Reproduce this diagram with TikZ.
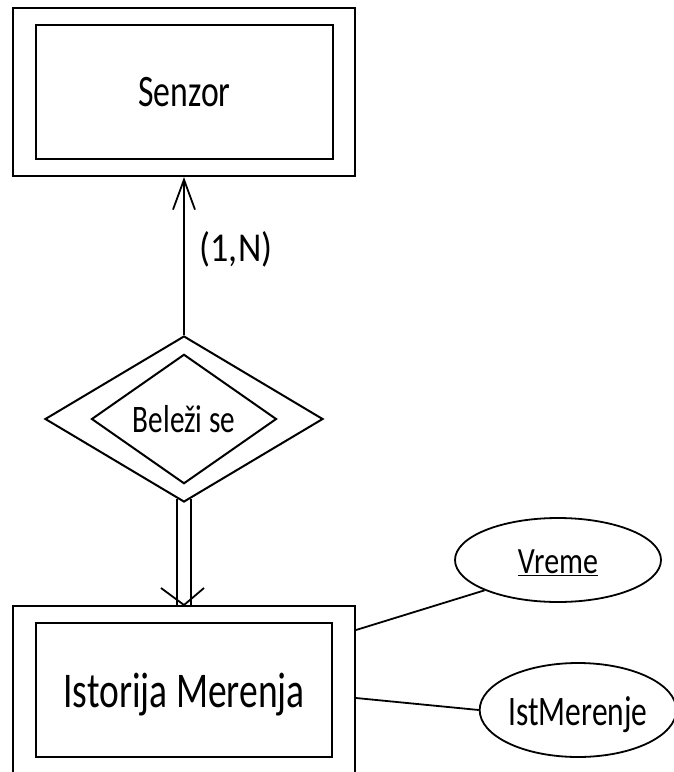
\documentclass[tikz,border=0pt]{standalone}
\usepackage{fontspec}
\setmainfont{Carlito}[FakeStretch=0.75]
\newfontfamily\widefont{Carlito}[FakeStretch=0.88]
\newfontfamily\midfont{Carlito}[FakeStretch=0.81]
\usetikzlibrary{shapes.geometric,arrows.meta,backgrounds,calc}
\tikzset{
  ent/.style={draw, line width=2pt, rectangle, inner sep=0pt},
  rel/.style={draw, line width=2pt, diamond, inner sep=0pt},
  attr/.style={draw, line width=1.8pt, ellipse, inner sep=0pt},
  conn/.style={line width=1.8pt},
  txt/.style={text depth=0pt, inner sep=0pt}
}
\begin{document}
\begin{tikzpicture}[x=1pt,y=-1pt]
\useasboundingbox (0,0) rectangle (674,772);
% Senzor
\node[ent, minimum width=342pt, minimum height=168pt] (senzorO) at (184,92) {};
\node[ent, txt, minimum width=297pt, minimum height=134pt,
      font=\fontsize{45}{54}\selectfont] (senzor) at (184.5,92) {Senzor};
% relationship
\node[rel, minimum width=278pt, minimum height=166pt] (rel) at (184,419) {};
\node[rel, txt, minimum width=185pt, minimum height=112pt,
      font=\fontsize{39}{46}\selectfont] (relI) at (184,419) {Beleži se};
% Istorija Merenja
\node[ent, minimum width=342pt, minimum height=168pt] (istO) at (184,690) {};
\node[ent, txt, minimum width=296pt, minimum height=134pt,
      font=\fontsize{50}{60}\selectfont] (ist) at (184,690) {Istorija Merenja};
% attributes
\node[attr, txt, minimum width=206pt, minimum height=84pt,
      font=\midfont\fontsize{37}{44}\selectfont] (vreme) at (558,560) {\raisebox{-3pt}{\underline{Vreme}}};
\node[attr, txt, minimum width=194pt, minimum height=94pt,
      font=\fontsize{42}{50}\selectfont] (istm) at (578,710) {\raisebox{-3pt}{IstMerenje}};
% label
\node[txt, font=\widefont\fontsize{41}{49}\selectfont] (card) at (236,246) {(1,N)};
\begin{scope}[on background layer]
  \draw[conn, -{Straight Barb[length=30pt,width=22pt,line width=1.8pt]}] (rel.north) -- (senzorO.south);
  \draw[conn] ($(rel.south)+(-7,-4)$) -- ($(istO.north)+(-7,0)$);
  \draw[conn] ($(rel.south)+(7,-4)$) -- ($(istO.north)+(7,0)$);
  \draw[conn] ($(istO.north)+(-23,-17)$) -- (istO.north) -- ($(istO.north)+(20,-17)$);
  \draw[conn] ($(istO.east)+(0,-60)$) -- (vreme.south west);
  \draw[conn] ($(istO.east)+(0,8)$) -- (istm.west);
\end{scope}
\end{tikzpicture}
\end{document}
